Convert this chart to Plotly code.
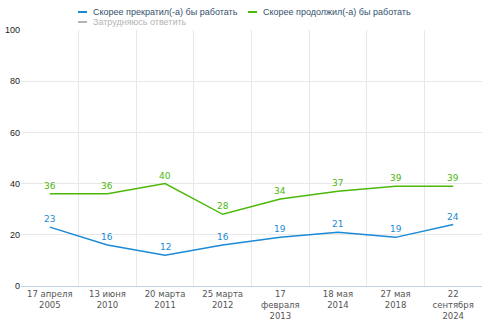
import plotly.graph_objects as go

categories = ["17 апреля<br>2005", "13 июня<br>2010", "20 марта<br>2011", "25 марта<br>2012",
              "17<br>февраля<br>2013", "18 мая<br>2014", "27 мая<br>2018", "22<br>сентября<br>2024"]
stop_work = [23, 16, 12, 16, 19, 21, 19, 24]
continue_work = [36, 36, 40, 28, 34, 37, 39, 39]
series_names = ["Скорее прекратил(-а) бы работать", "Скорее продолжил(-а) бы работать", "Затрудняюсь ответить"]

BLUE = "#1a8ad6"
GREEN = "#4cb80a"
GREY = "#b4b4b4"

fig = go.Figure()
for vals, name, col in [(stop_work, series_names[0], BLUE), (continue_work, series_names[1], GREEN)]:
    fig.add_trace(go.Scatter(x=categories, y=vals, name=name, mode="lines",
                             line=dict(color=col, width=1.5), showlegend=False, hoverinfo="skip"))
    for c, v in zip(categories, vals):
        fig.add_annotation(x=c, y=v, text=str(v), showarrow=False, yshift=8,
                           font=dict(color=col, size=9, family="DejaVu Sans"))

# manual legend (paper-positioned)
W, H = 482, 321
legend_items = [(series_names[0], BLUE, 78, 12, "#33506e"),
                (series_names[1], GREEN, 248, 12, "#33506e"),
                (series_names[2], GREY, 78, 22, GREY)]
for name, col, px, py, tcol in legend_items:
    fig.add_shape(type="line", xref="paper", yref="paper",
                  x0=(px - 21) / (W - 21), x1=(px + 9 - 21) / (W - 21),
                  y0=(286 - py) / 256, y1=(286 - py) / 256,
                  line=dict(color=col, width=2))
    fig.add_annotation(xref="paper", yref="paper", x=(px + 13 - 21) / (W - 21), y=(286 - py) / 256,
                       xanchor="left", yanchor="middle", showarrow=False, text=name,
                       font=dict(size=9, color=tcol, family="Liberation Sans, Arial"))

fig.update_layout(
    width=W, height=H,
    margin=dict(l=21, r=0, t=30, b=35, autoexpand=False),
    paper_bgcolor="white", plot_bgcolor="white",
    font=dict(family="Liberation Sans, Arial", size=9, color="#333333"),
    showlegend=False,
    xaxis=dict(type="category", showgrid=True, gridcolor="#e8e8e8", gridwidth=1,
               tickson="boundaries", ticks="", showline=True, linecolor="#c0d4e8",
               tickfont=dict(size=8.5, color="#555555", family="DejaVu Sans"),
               range=[-0.5, 7.5], fixedrange=True),
    yaxis=dict(range=[0, 100], dtick=20, showgrid=True, gridcolor="#e8e8e8",
               zeroline=False, ticks="", tickfont=dict(size=9, color="#222222"),
               fixedrange=True),
)

fig.write_html("out.html")
